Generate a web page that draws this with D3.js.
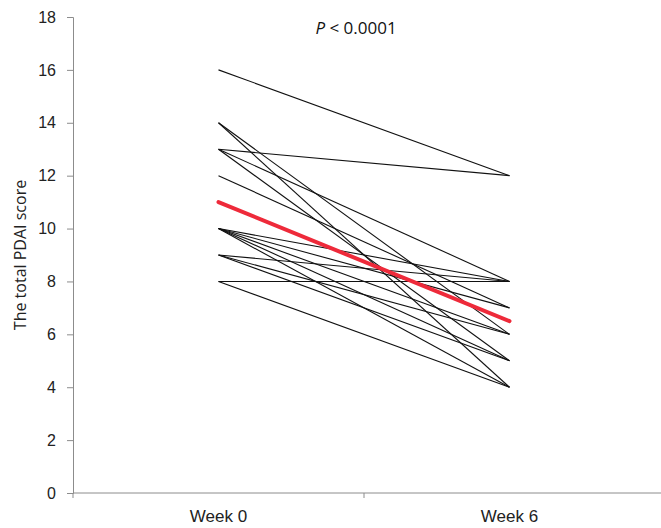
<!DOCTYPE html>
<html>
<head>
<meta charset="utf-8">
<script src="https://cdn.jsdelivr.net/npm/d3@7/dist/d3.min.js"></script>
<style>
  body { margin: 0; background: #fff; }
  svg { font-family: "Open Sans", "Noto Sans", sans-serif; }
</style>
</head>
<body>
<svg id="chart" width="661" height="528"></svg>
<script>
// categories and tick labels
const weeks = ["Week 0", "Week 6"];
const yTicks = [0, 2, 4, 6, 8, 10, 12, 14, 16, 18];

// individual patients, score at week 0 and week 6
const week0 = [16, 13, 14, 14, 13, 13, 12, 10, 10, 10, 10, 10, 9, 9, 9, 8, 8];
const week6 = [12, 12, 6, 4, 8, 5, 7, 8, 7, 6, 5, 4, 8, 6, 5, 8, 4];

// mean line (red)
const meanLine = [11, 6.5];

const svg = d3.select("#chart");
const margin = { top: 17, right: 6, bottom: 35, left: 73 };
const width = 661, height = 528;

const x = d3.scaleBand()
  .domain(weeks)
  .range([margin.left, width - margin.right]);

const y = d3.scaleLinear()
  .domain([0, 18])
  .range([height - margin.bottom, margin.top]);

const axisColor = "#8c8c8c";

// y axis
const yAxis = svg.append("g")
  .attr("transform", `translate(${margin.left},0)`)
  .call(d3.axisLeft(y).tickValues(yTicks).tickSize(6).tickPadding(11));
yAxis.select(".domain").attr("stroke", axisColor);
yAxis.selectAll(".tick line").attr("stroke", axisColor);
yAxis.selectAll(".tick text")
  .attr("fill", "#222")
  .style("font-size", "16px");

// x axis, ticks sit between categories
const xAxis = svg.append("g")
  .attr("transform", `translate(0,${y(0)})`)
  .call(d3.axisBottom(x).tickSize(0).tickPadding(17));
xAxis.select(".domain").attr("stroke", axisColor).attr("d", `M${margin.left},0H${width}`);
xAxis.selectAll(".tick text")
  .attr("fill", "#222")
  .style("font-size", "17px");
xAxis.selectAll(".sep")
  .data(weeks)
  .join("line")
  .attr("class", "sep")
  .attr("x1", d => x(d))
  .attr("x2", d => x(d))
  .attr("y1", 0)
  .attr("y2", 5)
  .attr("stroke", axisColor);

// y label
svg.append("text")
  .attr("transform", `translate(26,${(y(0) + y(18)) / 2}) rotate(-90)`)
  .attr("text-anchor", "middle")
  .attr("fill", "#222")
  .style("font-size", "16px")
  .text("The total PDAI score");

// p value
const pt = svg.append("text")
  .attr("x", (x(weeks[0]) + x(weeks[1]) + x.bandwidth()) / 2 - 8)
  .attr("y", 34)
  .attr("text-anchor", "middle")
  .attr("fill", "#111")
  .style("font-size", "17px");
pt.append("tspan").attr("font-style", "italic").text("P");
pt.append("tspan").text(" < 0.0001");

const cx = d => x(d) + x.bandwidth() / 2;

// patient lines
svg.append("g")
  .selectAll("line")
  .data(week0.map((v, i) => [v, week6[i]]))
  .join("line")
  .attr("x1", cx(weeks[0]))
  .attr("x2", cx(weeks[1]))
  .attr("y1", d => y(d[0]))
  .attr("y2", d => y(d[1]))
  .attr("stroke", "#111")
  .attr("stroke-width", 1.1);

// mean line
svg.append("line")
  .attr("x1", cx(weeks[0]))
  .attr("x2", cx(weeks[1]))
  .attr("y1", y(meanLine[0]))
  .attr("y2", y(meanLine[1]))
  .attr("stroke", "#ee2a3a")
  .attr("stroke-width", 4)
  .attr("stroke-linecap", "round");
</script>
</body>
</html>
